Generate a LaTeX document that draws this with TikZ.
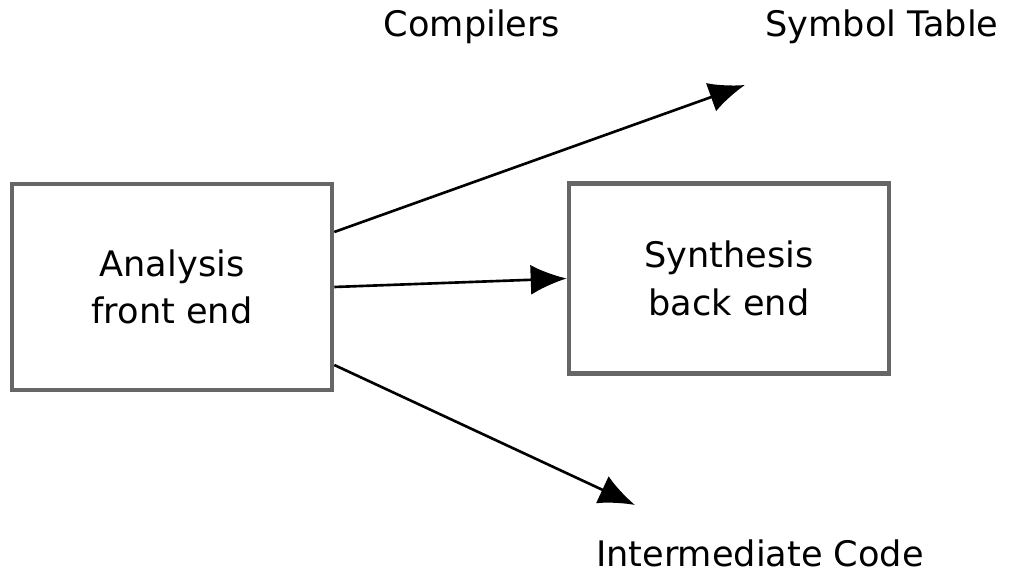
\documentclass[tikz,border=0pt]{standalone}
\usepackage{fontspec}
\setmainfont{DejaVu Sans}
\usetikzlibrary{arrows.meta}

\tikzset{
  part/.style = {draw = black!60, line width = 2.6pt, minimum width = 6.4cm,
                 align = center, font = \fontsize{20}{27}\selectfont},
  label/.style = {anchor = base, font = \fontsize{20}{24}\selectfont},
  link/.style = {line width = 1.5pt, -{Latex[length = 0.72cm, width = 0.6cm]}}
}

\begin{document}
\begin{tikzpicture}
\useasboundingbox (0,0) rectangle (20.48,11.64);
\node [part, minimum height = 4.12cm] (analysis) at (3.44,5.9) {Analysis\\front end};
\node [part, minimum height = 3.8cm] (synthesis) at (14.58,6.07) {Synthesis\\back end};
\node [label] (compilers) at (9.44,10.9) {Compilers};
\node [label] (symtab) at (17.64,10.9) {Symbol Table};
\node [label] (imcode) at (15.2,0.3) {Intermediate Code};
\coordinate (symtip) at (14.9,9.94);
\coordinate (imtip) at (12.7,1.54);
\draw [link] ([yshift = 1.1cm]analysis.east) -- (symtip);
\draw [link] (analysis.east) -- (synthesis.west);
\draw [link] ([yshift = -1.56cm]analysis.east) -- (imtip);
\end{tikzpicture}
\end{document}
